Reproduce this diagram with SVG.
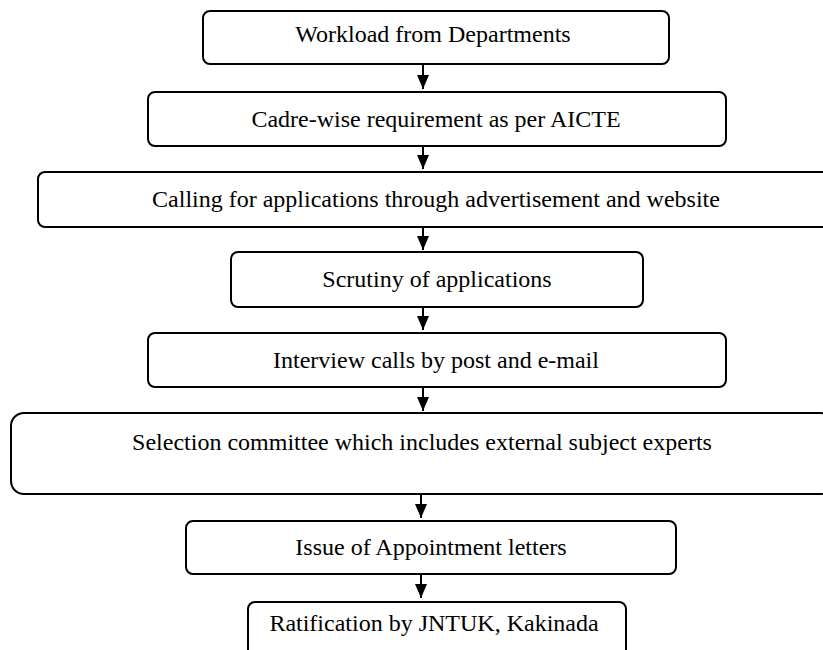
<svg xmlns="http://www.w3.org/2000/svg" width="823" height="650" viewBox="0 0 823 650">
<defs>
<style>
.box{fill:#fff;stroke:#000;stroke-width:2}
.lbl{font-family:"Liberation Serif","Times New Roman",serif;font-size:24px;fill:#000;text-anchor:middle}
.conn{stroke:#000;stroke-width:2;fill:none}
</style>
<marker id="ah" markerWidth="14" markerHeight="12" refX="14" refY="6" orient="auto" markerUnits="userSpaceOnUse">
<path d="M0,0 L14,6 L0,12 Z" fill="#000"/>
</marker>
</defs>
<rect width="823" height="650" fill="#fff"/>
<g id="n1"><rect class="box" x="203" y="11" width="466" height="53" rx="7"/><text class="lbl" x="433" y="42">Workload from Departments</text></g>
<g id="n2"><rect class="box" x="148" y="92" width="578" height="54" rx="7"/><text class="lbl" x="436" y="127">Cadre-wise requirement as per AICTE</text></g>
<g id="n3"><rect class="box" x="38" y="172" width="796" height="55" rx="7"/><text class="lbl" x="436" y="207">Calling for applications through advertisement and website</text></g>
<g id="n4"><rect class="box" x="231" y="252" width="412" height="55" rx="7"/><text class="lbl" x="437" y="287">Scrutiny of applications</text></g>
<g id="n5"><rect class="box" x="148" y="333" width="578" height="54" rx="7"/><text class="lbl" x="436" y="368">Interview calls by post and e-mail</text></g>
<g id="n6"><rect class="box" x="11" y="413" width="822" height="81" rx="13"/><text class="lbl" x="422" y="450">Selection committee which includes external subject experts</text></g>
<g id="n7"><rect class="box" x="186" y="521" width="490" height="53" rx="7"/><text class="lbl" x="431" y="555">Issue of Appointment letters</text></g>
<g id="n8"><rect class="box" x="248" y="602" width="378" height="62" rx="7"/><text class="lbl" x="434" y="631">Ratification by JNTUK, Kakinada</text></g>
<g id="connectors">
<line class="conn" x1="423" y1="64" x2="423" y2="89" marker-end="url(#ah)"/>
<line class="conn" x1="423" y1="146" x2="423" y2="169" marker-end="url(#ah)"/>
<line class="conn" x1="423" y1="227" x2="423" y2="250" marker-end="url(#ah)"/>
<line class="conn" x1="423" y1="307" x2="423" y2="330" marker-end="url(#ah)"/>
<line class="conn" x1="423" y1="387" x2="423" y2="411" marker-end="url(#ah)"/>
<line class="conn" x1="421" y1="494" x2="421" y2="518" marker-end="url(#ah)"/>
<line class="conn" x1="421" y1="574" x2="421" y2="598" marker-end="url(#ah)"/>
</g>
</svg>
